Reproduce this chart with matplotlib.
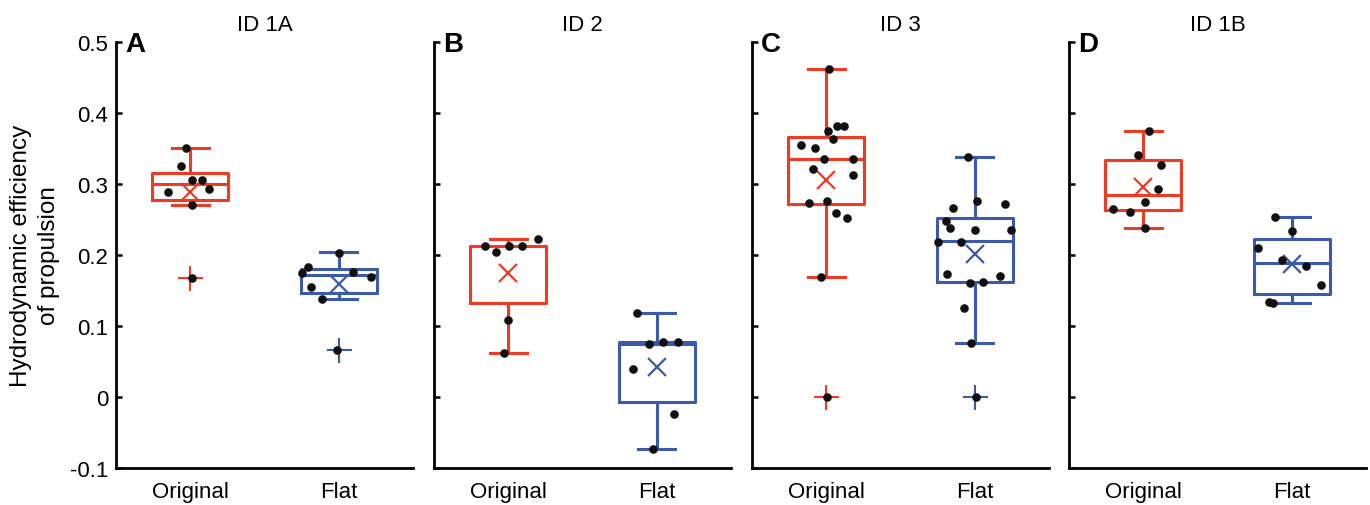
import matplotlib
matplotlib.use('Agg')
import matplotlib.pyplot as plt
import numpy as np

plt.rcParams['font.family'] = ['Liberation Sans', 'DejaVu Sans']

panel_titles = ['ID 1A', 'ID 2', 'ID 3', 'ID 1B']
panel_letters = ['A', 'B', 'C', 'D']
categories = ['Original', 'Flat']
ytick_vals = [-0.1, 0, 0.1, 0.2, 0.3, 0.4, 0.5]
ytick_labels = ['-0.1', '0', '0.1', '0.2', '0.3', '0.4', '0.5']

# box stats, [original, flat] per panel
box_q1 = [[0.278, 0.146], [0.132, -0.008], [0.271, 0.162], [0.263, 0.1455]]
box_med = [[0.300, 0.1715], [0.212, 0.075], [0.3357, 0.219], [0.2845, 0.188]]
box_q3 = [[0.316, 0.180], [0.213, 0.0765], [0.366, 0.2526], [0.334, 0.222]]
whis_lo = [[0.270, 0.138], [0.0615, -0.0737], [0.169, 0.0756], [0.2376, 0.132]]
whis_hi = [[0.350, 0.204], [0.222, 0.118], [0.4615, 0.3385], [0.375, 0.254]]
means = [[0.289, 0.159], [0.175, 0.042], [0.306, 0.2005], [0.296, 0.187]]
outliers = [[[0.168], [0.066]], [[], []], [[0.0], [-0.001]], [[], []]]

# individual trials (value, horizontal jitter in category units)
orig_1a = [0.350, 0.325, 0.306, 0.306, 0.293, 0.289, 0.270, 0.168]
orig_1a_dx = [-0.027, -0.063, 0.009, 0.076, 0.123, -0.153, 0.013, 0.013]
flat_1a = [0.203, 0.183, 0.174, 0.176, 0.169, 0.155, 0.138, 0.066]
flat_1a_dx = [0.0, -0.204, -0.249, 0.099, 0.215, -0.186, -0.110, -0.013]

orig_2 = [0.212, 0.204, 0.213, 0.212, 0.222, 0.108, 0.0615]
orig_2_dx = [-0.157, -0.081, 0.007, 0.090, 0.198, -0.002, -0.031]
flat_2 = [0.118, 0.075, 0.0775, 0.0775, 0.039, -0.025, -0.074]
flat_2_dx = [-0.132, -0.049, 0.040, 0.144, -0.159, 0.114, -0.027]

orig_3 = [0.4615, 0.374, 0.363, 0.382, 0.382, 0.3545, 0.350, 0.3357, 0.335,
          0.3207, 0.3127, 0.2737, 0.2765, 0.2587, 0.252, 0.169, 0.0]
orig_3_dx = [0.018, 0.011, 0.047, 0.074, 0.119, -0.171, -0.074, -0.018, 0.177,
             -0.092, 0.177, -0.117, 0.002, 0.063, 0.141, -0.038, 0.007]
flat_3 = [0.3385, 0.276, 0.272, 0.266, 0.248, 0.2385, 0.2347, 0.2347, 0.2183,
          0.2188, 0.1737, 0.1704, 0.161, 0.1624, 0.1244, 0.0756, -0.001]
flat_3_dx = [-0.043, 0.016, 0.207, -0.148, -0.195, -0.164, 0.0, 0.247, -0.247,
             -0.090, -0.189, 0.171, -0.034, 0.056, -0.074, -0.027, 0.011]

orig_1b = [0.375, 0.341, 0.326, 0.2925, 0.274, 0.265, 0.261, 0.2376]
orig_1b_dx = [0.040, -0.036, 0.117, 0.097, 0.011, -0.207, -0.088, 0.013]
flat_1b = [0.254, 0.233, 0.2094, 0.193, 0.1836, 0.158, 0.133, 0.1315]
flat_1b_dx = [-0.112, 0.002, -0.227, -0.065, 0.094, 0.195, -0.150, -0.123]

points = [[orig_1a, flat_1a], [orig_2, flat_2], [orig_3, flat_3], [orig_1b, flat_1b]]
points_dx = [[orig_1a_dx, flat_1a_dx], [orig_2_dx, flat_2_dx],
             [orig_3_dx, flat_3_dx], [orig_1b_dx, flat_1b_dx]]

colors = ['#ee3b24', '#3b5aa9']

fig = plt.figure(figsize=(13.7, 5.06), dpi=100)
lefts = [116, 434, 752, 1069]

for i in range(4):
    ax = fig.add_axes([lefts[i] / 1370, 37.3 / 506, 297 / 1370, 425.7 / 506])
    for j in range(2):
        c = colors[j]
        st = dict(q1=box_q1[i][j], med=box_med[i][j], q3=box_q3[i][j],
                  whislo=whis_lo[i][j], whishi=whis_hi[i][j], mean=means[i][j],
                  fliers=outliers[i][j], label=categories[j])
        ax.bxp([st], positions=[j + 1], widths=0.51, capwidths=0.25,
               showmeans=True, showfliers=True, manage_ticks=False,
               boxprops=dict(color=c, linewidth=2.2),
               medianprops=dict(color=c, linewidth=2.2),
               whiskerprops=dict(color=c, linewidth=2.2),
               capprops=dict(color=c, linewidth=2.2),
               meanprops=dict(marker='x', markeredgecolor=c, markersize=13,
                              markeredgewidth=1.6),
               flierprops=dict(marker='+', markeredgecolor=c, markersize=18,
                               markeredgewidth=1.5))
        xs = np.array(points_dx[i][j]) + j + 1
        ax.plot(xs, points[i][j], 'o', color='#111111', markersize=6.2,
                markeredgewidth=0, zorder=5)

    ax.set_xlim(0.5, 2.5)
    ax.set_ylim(-0.1, 0.5)
    ax.set_xticks([1, 2])
    ax.set_xticklabels(categories)
    ax.set_yticks(ytick_vals)
    ax.set_yticklabels(ytick_labels)
    ax.spines['top'].set_visible(False)
    ax.spines['right'].set_visible(False)
    ax.spines['left'].set_linewidth(2)
    ax.spines['bottom'].set_linewidth(2)
    ax.tick_params(axis='y', direction='in', length=4, width=1.8, labelsize=16, pad=5.5,
                   labelleft=(i == 0))
    ax.tick_params(axis='x', length=0, labelsize=16, pad=9.5)
    ax.set_title(panel_titles[i], fontsize=16, pad=8.6)
    ax.text(0.03, 0.98, panel_letters[i], transform=ax.transAxes, fontsize=20,
            fontweight='bold', va='baseline', ha='left')

fig.text(35 / 1370, 1 - 256 / 506, 'Hydrodynamic efficiency\nof propulsion',
         rotation=90, ha='center', va='center', fontsize=17.5, multialignment='center',
         linespacing=1.4)

fig.savefig('out.png', dpi=100)
